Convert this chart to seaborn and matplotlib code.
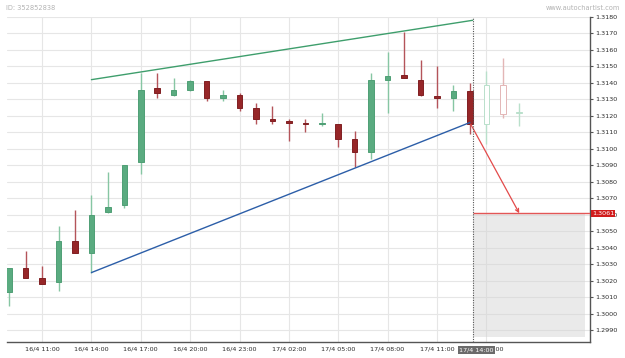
import numpy as np
import pandas as pd
import matplotlib
matplotlib.use("Agg")
import matplotlib.pyplot as plt
import seaborn as sns
from matplotlib.patches import Rectangle

# hourly candles, 16/4 09:00 -> 17/4 16:00
times = pd.date_range("2019-04-16 09:00", periods=32, freq="h")
opens = [1.3013, 1.3028, 1.3022, 1.3019, 1.3044, 1.3037, 1.3062, 1.3066,
         1.3092, 1.3137, 1.3133, 1.3136, 1.3141, 1.3131, 1.3133, 1.3125,
         1.3118, 1.3117, 1.3116, 1.3115, 1.3115, 1.3106, 1.3098, 1.3142,
         1.3145, 1.3142, 1.3132, 1.3131, 1.3135, 1.3115, 1.3139, 1.3122]
highs = [1.3028, 1.3038, 1.3029, 1.3053, 1.3063, 1.3072, 1.3086, 1.3090,
         1.3146, 1.3146, 1.3143, 1.3142, 1.3141, 1.3136, 1.3134, 1.3128,
         1.3126, 1.3118, 1.3118, 1.3122, 1.3115, 1.3111, 1.3146, 1.3159,
         1.3171, 1.3154, 1.3150, 1.3139, 1.3140, 1.3147, 1.3155, 1.3128]
lows = [1.3005, 1.3022, 1.3018, 1.3014, 1.3037, 1.3025, 1.3061, 1.3064,
        1.3085, 1.3131, 1.3132, 1.3135, 1.3129, 1.3129, 1.3123, 1.3115,
        1.3115, 1.3105, 1.3110, 1.3114, 1.3101, 1.3089, 1.3094, 1.3122,
        1.3143, 1.3132, 1.3125, 1.3123, 1.3109, 1.3103, 1.3119, 1.3114]
closes = [1.3028, 1.3022, 1.3018, 1.3044, 1.3037, 1.3060, 1.3065, 1.3090,
          1.3136, 1.3134, 1.3136, 1.3141, 1.3131, 1.3133, 1.3125, 1.3118,
          1.3117, 1.3116, 1.3115, 1.3116, 1.3106, 1.3098, 1.3142, 1.3144,
          1.3143, 1.3133, 1.3131, 1.3135, 1.3115, 1.3139, 1.3121, 1.3122]

# pattern (triangle) lines and forecast
pattern_end = pd.Timestamp("2019-04-17 13:10")
res_times = [pd.Timestamp("2019-04-16 14:00"), pattern_end]
res_prices = [1.3142, 1.3178]
sup_times = [pd.Timestamp("2019-04-16 14:00"), pd.Timestamp("2019-04-17 13:00")]
sup_prices = [1.3025, 1.3116]
target_time = pd.Timestamp("2019-04-17 16:00")
target_price = 1.3061
zone_end = pd.Timestamp("2019-04-17 20:00")
zone_low = 1.2986

base = pd.Timestamp("2019-04-16 00:00")


def hrs(t):
    return (pd.to_datetime(t) - base) / pd.Timedelta(hours=1)


df = pd.DataFrame({"t": times, "open": opens, "high": highs,
                   "low": lows, "close": closes})
df["x"] = hrs(df["t"])
df["up"] = df["close"] >= df["open"]
df["faded"] = df["t"] > pattern_end

sns.set_style("white")
plt.rcParams["font.family"] = ["DejaVu Sans"]

fig = plt.figure(figsize=(6.25, 3.58), dpi=100)
ax = fig.add_axes([0.0112, 0.0447, 0.9328, 0.9078])

grid_c = "#e6e6e6"
ax.grid(True, color=grid_c, linewidth=0.8, zorder=0)
ax.set_axisbelow(True)

# candles
body_col, edge_col, wick_col = [], [], []
for up, faded in zip(df["up"], df["faded"]):
    if faded:
        body_col.append("white")
        edge_col.append("#b9e0cb" if up else "#e3b6b6")
        wick_col.append("#b9e0cb" if up else "#e3b6b6")
    else:
        body_col.append("#5aab80" if up else "#962628")
        edge_col.append("#4f9f75" if up else "#801f22")
        wick_col.append("#86c6a3" if up else "#b4545a")

bottoms = np.minimum(df["open"], df["close"])
heights = np.maximum(np.abs(df["close"] - df["open"]), 0.00005)
ax.vlines(df["x"], df["low"], df["high"], colors=wick_col, linewidth=1.0, zorder=2)
ax.bar(df["x"], heights, bottom=bottoms, width=0.34, color=body_col,
       edgecolor=edge_col, linewidth=0.7, zorder=3)

# triangle lines
sns.lineplot(x=hrs(pd.Series(res_times)), y=res_prices, color="#3e9e6c",
             linewidth=1.0, ax=ax, zorder=4)
sns.lineplot(x=hrs(pd.Series(sup_times)), y=sup_prices, color="#2c5ea8",
             linewidth=1.0, ax=ax, zorder=4)

# forecast zone
x_end = hrs(pattern_end)
ax.add_patch(Rectangle((x_end + 0.05, zone_low), hrs(zone_end) - x_end - 0.05,
                       target_price - zone_low, facecolor="#d6d6d6", alpha=0.5,
                       edgecolor="none", zorder=1))
ax.hlines(target_price, x_end, 44.3, color="#e35656", linewidth=1.0, zorder=4)
ax.annotate("", xy=(hrs(target_time), target_price),
            xytext=(hrs(sup_times[1]) + 0.05, sup_prices[1] - 0.0001),
            arrowprops=dict(arrowstyle="->", color="#e34a4a", lw=0.9,
                            mutation_scale=6, shrinkA=0, shrinkB=0), zorder=5)
ax.axvline(x_end, color="#555555", linewidth=0.8, linestyle=(0, (1, 1.2)), zorder=5)

ax.set_xlim(8.87, 44.3)
ax.set_ylim(1.29829, 1.31798)

yt = np.arange(1.2990, 1.31805, 0.001)
ax.yaxis.tick_right()
ax.set_yticks(yt)
ax.set_yticklabels([f"{v:.4f}" for v in yt])
xt = np.arange(11, 39, 3)
ax.set_xticks(xt)
ax.set_xticklabels([f"{(base + pd.Timedelta(hours=int(h))).day}/"
                    f"{(base + pd.Timedelta(hours=int(h))).month} "
                    f"{(base + pd.Timedelta(hours=int(h))):%H:%M}" for h in xt])
minor = [h + o for h in range(8, 45, 3) for o in (0.76, 1.61)]
ax.set_xticks([m for m in minor if 8.9 < m < 44.3], minor=True)

ax.tick_params(axis="x", which="major", length=0, pad=3, labelsize=4.6,
               labelcolor="#2a2a2a")
ax.tick_params(axis="x", which="minor", length=2.2, width=0.7, color="#777777")
ax.tick_params(axis="y", length=2.5, width=0.8, color="#555555", pad=1.2,
               labelsize=4.6, labelcolor="#2a2a2a")

for s in ["left", "top"]:
    ax.spines[s].set_visible(False)
for s in ["right", "bottom"]:
    ax.spines[s].set_color("#555555")
    ax.spines[s].set_linewidth(1.0)

# labels on top of the axes
fig.text(476.5 / 625, 1 - 350 / 358, "17/4 14:00", ha="center", va="center",
         fontsize=4.6, color="white",
         bbox=dict(boxstyle="square,pad=0.25", facecolor="#6b6b6b", edgecolor="none"))
fig.text(603 / 625, 1 - 213.5 / 358, "1.3061", ha="center", va="center",
         fontsize=4.6, color="white",
         bbox=dict(boxstyle="square,pad=0.2", facecolor="#d11c1c", edgecolor="none"))
fig.text(6 / 625, 1 - 8 / 358, "ID: 352852838", ha="left", va="center",
         fontsize=4.8, color="#b3b3b3")
fig.text(620 / 625, 1 - 8 / 358, "www.autochartist.com", ha="right", va="center",
         fontsize=4.8, color="#b3b3b3")

fig.savefig("out.png", dpi=100)
